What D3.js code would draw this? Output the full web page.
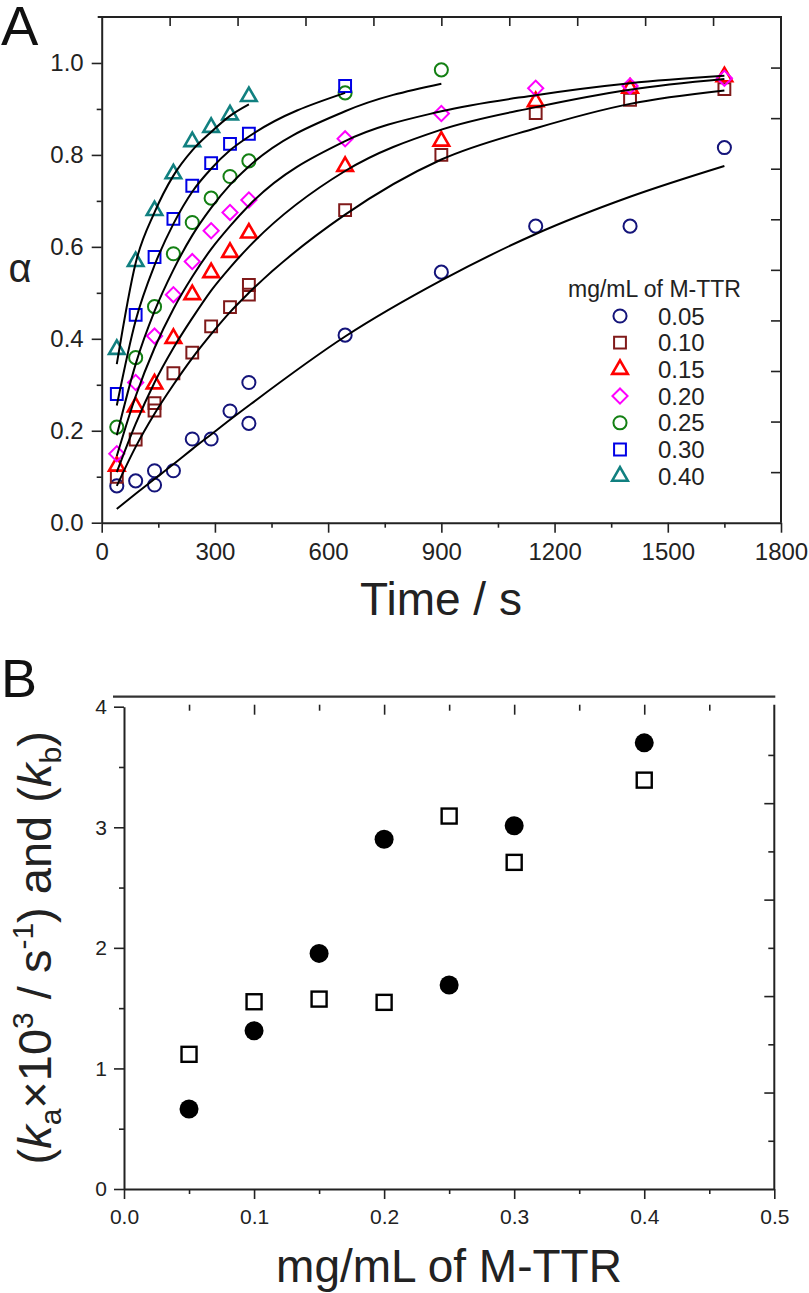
<!DOCTYPE html>
<html>
<head>
<meta charset="utf-8">
<script src="https://cdn.jsdelivr.net/npm/d3@7"></script>
<style>
  body { margin: 0; background: #fff; }
  svg { display: block; font-family: "Liberation Sans", Arial, Helvetica, sans-serif; }
  .ax path, .ax line { stroke: #222; }
  .ax text { fill: #222; }
</style>
</head>
<body>
<div id="chart"></div>
<script>
// ---- panel A: fraction converted vs time ----
const times = [40, 90, 140, 190, 240, 290, 340, 390, 645, 900, 1150, 1400, 1650]
const conc = ['0.05', '0.10', '0.15', '0.20', '0.25', '0.30', '0.40']

const a005 = [0.080, 0.091, 0.113, 0.113, 0.182, 0.182, 0.243, 0.305, 0.408, 0.545, 0.645, 0.645, 0.816]
const r005 = [null, null, 0.082, null, null, null, null, 0.216]
const a010 = [0.100, 0.181, 0.260, 0.325, 0.370, 0.427, 0.469, 0.517, 0.680, 0.800, 0.891, 0.920, 0.943]
const r010 = [null, null, 0.244, null, null, null, null, 0.496]
const a015 = [0.123, 0.252, 0.302, 0.401, 0.496, 0.544, 0.588, 0.630, 0.775, 0.830, 0.916, 0.945, 0.970]
const a020 = [0.150, 0.305, 0.406, 0.496, 0.568, 0.635, 0.675, 0.702, 0.835, 0.890, 0.945, 0.950, 0.967]
const a025 = [0.208, 0.359, 0.470, 0.585, 0.653, 0.706, 0.753, 0.787, 0.935, 0.985]
const a030 = [0.280, 0.452, 0.578, 0.661, 0.733, 0.782, 0.824, 0.846, 0.950]
const a040 = [0.377, 0.568, 0.679, 0.759, 0.829, 0.860, 0.887, 0.927]

// fitted curves at the same times
const f005 = [0.030, 0.063, 0.095, 0.127, 0.160, 0.192, 0.224, 0.255, 0.405, 0.527, 0.628, 0.709, 0.776]
const f010 = [0.080, 0.165, 0.237, 0.300, 0.358, 0.410, 0.458, 0.500, 0.670, 0.790, 0.858, 0.911, 0.940]
const f015 = [0.110, 0.215, 0.305, 0.380, 0.445, 0.505, 0.555, 0.600, 0.765, 0.855, 0.904, 0.942, 0.965]
const f020 = [0.145, 0.275, 0.380, 0.465, 0.535, 0.595, 0.645, 0.690, 0.830, 0.895, 0.930, 0.956, 0.972]
const f025 = [0.190, 0.345, 0.460, 0.550, 0.625, 0.685, 0.735, 0.775, 0.895, 0.955]
const f030 = [0.255, 0.440, 0.560, 0.650, 0.720, 0.770, 0.810, 0.840, 0.935]
const f040 = [0.345, 0.565, 0.675, 0.755, 0.810, 0.850, 0.885, 0.910]

// ---- panel B: rate constants vs concentration ----
const concB = [0.05, 0.10, 0.15, 0.20, 0.25, 0.30, 0.40]
const kaB = [0.663, 1.313, 1.954, 2.900, 1.692, 3.013, 3.700]
const kbB = [1.117, 1.553, 1.575, 1.548, 3.093, 2.709, 3.391]

const colors = ['#14147a', '#801a1a', '#ff0000', '#ff00ff', '#138013', '#0000e6', '#118080']
const shapes = ['circle', 'square', 'triangle', 'diamond', 'circle', 'square', 'triangle']
const values = [a005, a010, a015, a020, a025, a030, a040]
const reps = [r005, r010, [], [], [], [], []]
const fits = [f005, f010, f015, f020, f025, f030, f040]

const svg = d3.select('#chart').append('svg')
  .attr('width', 809)
  .attr('height', 1293)

function marker (shape) {
  if (shape === 'circle') return d3.symbol().type(d3.symbolCircle).size(135)()
  if (shape === 'square') return d3.symbol().type(d3.symbolSquare).size(140)()
  if (shape === 'triangle') return d3.symbol().type(d3.symbolTriangle).size(105)()
  return d3.symbol().type(d3.symbolSquare).size(115)()
}

// ================= A =================
const xA = d3.scaleLinear().domain([0, 1800]).range([101.7, 781])
const yA = d3.scaleLinear().domain([0, 1.1]).range([522.7, 17])
const gA = svg.append('g')

gA.append('g').attr('class', 'ax')
  .attr('transform', `translate(0,${yA(0)})`)
  .call(d3.axisBottom(xA).tickValues(d3.range(0, 1801, 300)).tickSize(10).tickPadding(10).tickSizeOuter(0).tickFormat(d3.format('d')))
  .call(g => g.selectAll('text').attr('font-size', 24))
gA.append('g').attr('class', 'ax')
  .attr('transform', `translate(0,${yA(0)})`)
  .call(d3.axisBottom(xA).tickValues(d3.range(150, 1800, 300)).tickSize(5).tickFormat(''))
  .call(g => g.select('.domain').remove())
gA.append('g').attr('class', 'ax')
  .attr('transform', `translate(${xA(0)},0)`)
  .call(d3.axisLeft(yA).tickValues(d3.range(0, 1.01, 0.2)).tickSize(10).tickPadding(8).tickSizeOuter(0).tickFormat(d3.format('.1f')))
  .call(g => g.selectAll('text').attr('font-size', 24))
gA.append('g').attr('class', 'ax')
  .attr('transform', `translate(${xA(0)},0)`)
  .call(d3.axisLeft(yA).tickValues(d3.range(0.1, 1.1, 0.2)).tickSize(5).tickFormat(''))
  .call(g => g.select('.domain').remove())
gA.append('g').attr('class', 'ax')
  .attr('transform', `translate(0,${yA(1.1)})`)
  .call(d3.axisBottom(xA).tickValues(d3.range(180, 1800, 180)).tickSize(9).tickFormat(''))
  .call(g => g.select('.domain').remove())
gA.append('g').attr('class', 'ax')
  .attr('transform', `translate(${xA(1800)},0)`)
  .call(d3.axisLeft(yA).tickValues(d3.range(1, 10).map(k => k * 0.11)).tickSize(10).tickFormat(''))
  .call(g => g.select('.domain').remove())
gA.selectAll('.ax path').attr('stroke-width', 2)
gA.selectAll('.ax line').attr('stroke-width', 1.6)

// frame top + right
gA.append('path')
  .attr('d', `M${xA(0) - 4},${yA(1.1)}H${xA(1800)}V${yA(0)}`)
  .attr('fill', 'none').attr('stroke', '#222').attr('stroke-width', 2)

// markers
values.forEach((vals, i) => {
  const pts = vals.map((v, j) => [times[j], v])
  reps[i].forEach((v, j) => { if (v != null) pts.push([times[j], v]) })
  gA.append('g').selectAll('path')
    .data(pts)
    .enter()
    .append('path')
    .attr('d', marker(shapes[i]))
    .attr('transform', d => `translate(${xA(d[0])},${yA(d[1])})` + (shapes[i] === 'diamond' ? 'rotate(45)' : ''))
    .attr('fill', 'none')
    .attr('stroke', colors[i])
    .attr('stroke-width', shapes[i] === 'triangle' ? 2.6 : 2)
})

// fitted curves
const line = d3.line().x(d => xA(d[0])).y(d => yA(d[1])).curve(d3.curveMonotoneX)
fits.forEach(f => {
  gA.append('path')
    .attr('d', line(f.map((v, j) => [times[j], v])))
    .attr('fill', 'none')
    .attr('stroke', '#000')
    .attr('stroke-width', 2)
})

// legend
const leg = gA.append('g')
leg.append('text').attr('x', 568).attr('y', 297).attr('font-size', 23).attr('fill', '#222').text('mg/mL of M-TTR')
conc.forEach((c, i) => {
  const yy = 316 + i * 26.7
  leg.append('path')
    .attr('d', marker(shapes[i]))
    .attr('transform', `translate(620,${yy})` + (shapes[i] === 'diamond' ? 'rotate(45)' : ''))
    .attr('fill', 'none')
    .attr('stroke', colors[i])
    .attr('stroke-width', shapes[i] === 'triangle' ? 2.6 : 2)
  leg.append('text').attr('x', 658).attr('y', yy + 8.6).attr('font-size', 24).attr('fill', '#222').text(c)
})

gA.append('text').attr('x', 441).attr('y', 615).attr('text-anchor', 'middle')
  .attr('font-size', 46).attr('fill', '#222').text('Time / s')
gA.append('text').attr('x', 20).attr('y', 282).attr('text-anchor', 'middle')
  .attr('font-size', 40).attr('fill', '#222').text('α')
svg.append('text').attr('x', 1).attr('y', 45).attr('font-size', 56).attr('fill', '#111').text('A')

// ================= B =================
const xB = d3.scaleLinear().domain([0, 0.5]).range([124, 774.3])
const yB = d3.scaleLinear().domain([0, 4]).range([1189, 706.7])
const gB = svg.append('g')

gB.append('g').attr('class', 'ax')
  .attr('transform', `translate(0,${yB(0)})`)
  .call(d3.axisBottom(xB).tickValues(d3.range(0, 0.51, 0.1)).tickSize(10).tickPadding(10).tickSizeOuter(0).tickFormat(d3.format('.1f')))
  .call(g => g.selectAll('text').attr('font-size', 21))
gB.append('g').attr('class', 'ax')
  .attr('transform', `translate(0,${yB(0)})`)
  .call(d3.axisBottom(xB).tickValues(d3.range(0.05, 0.5, 0.1)).tickSize(5).tickFormat(''))
  .call(g => g.select('.domain').remove())
gB.append('g').attr('class', 'ax')
  .attr('transform', `translate(${xB(0)},0)`)
  .call(d3.axisLeft(yB).tickValues(d3.range(0, 4.1, 1)).tickSize(10).tickPadding(7).tickSizeOuter(0).tickFormat(d3.format('d')))
  .call(g => g.selectAll('text').attr('font-size', 21))
gB.append('g').attr('class', 'ax')
  .attr('transform', `translate(${xB(0)},0)`)
  .call(d3.axisLeft(yB).tickValues(d3.range(0.5, 4, 1)).tickSize(5).tickFormat(''))
  .call(g => g.select('.domain').remove())
// top ticks hang under a detached top line
gB.append('g').attr('class', 'ax')
  .attr('transform', `translate(0,${yB(4) - 2})`)
  .call(d3.axisBottom(xB).tickValues(d3.range(0.1, 0.5, 0.1)).tickSize(10).tickFormat(''))
  .call(g => g.select('.domain').remove())
gB.append('g').attr('class', 'ax')
  .attr('transform', `translate(0,${yB(4) - 2})`)
  .call(d3.axisBottom(xB).tickValues(d3.range(0.05, 0.5, 0.1)).tickSize(6).tickFormat(''))
  .call(g => g.select('.domain').remove())
gB.append('g').attr('class', 'ax')
  .attr('transform', `translate(${xB(0.5)},0)`)
  .call(d3.axisLeft(yB).tickValues([0.8, 1.6, 2.4, 3.2]).tickSize(10).tickFormat(''))
  .call(g => g.select('.domain').remove())
gB.append('g').attr('class', 'ax')
  .attr('transform', `translate(${xB(0.5)},0)`)
  .call(d3.axisLeft(yB).tickValues([0.4, 1.2, 2.0, 2.8, 3.6]).tickSize(6).tickFormat(''))
  .call(g => g.select('.domain').remove())
gB.selectAll('.ax path').attr('stroke-width', 2)
gB.selectAll('.ax line').attr('stroke-width', 1.6)

gB.append('path')
  .attr('d', `M${xB(0) - 11},${yB(4) - 10}H${xB(0.5) + 1}`)
  .attr('stroke', '#333').attr('stroke-width', 2.2)
gB.append('path')
  .attr('d', `M${xB(0.5)},${yB(4) - 2}V${yB(0)}`)
  .attr('stroke', '#222').attr('stroke-width', 2)

gB.append('g').selectAll('circle')
  .data(concB.map((c, i) => [c, kaB[i]]))
  .enter()
  .append('circle')
  .attr('cx', d => xB(d[0]))
  .attr('cy', d => yB(d[1]))
  .attr('r', 9.5)
  .attr('fill', '#000')
gB.append('g').selectAll('rect')
  .data(concB.map((c, i) => [c, kbB[i]]))
  .enter()
  .append('rect')
  .attr('x', d => xB(d[0]) - 7.5)
  .attr('y', d => yB(d[1]) - 7.5)
  .attr('width', 15)
  .attr('height', 15)
  .attr('fill', 'none')
  .attr('stroke', '#000')
  .attr('stroke-width', 2.4)

gB.append('text').attr('x', 449).attr('y', 1282).attr('text-anchor', 'middle')
  .attr('font-size', 46).attr('fill', '#222').text('mg/mL of M-TTR')

const yt = gB.append('text')
  .attr('transform', `translate(51,${(yB(0) + yB(4)) / 2}) rotate(-90)`)
  .attr('text-anchor', 'middle').attr('font-size', 47).attr('fill', '#222')
yt.append('tspan').text('(')
yt.append('tspan').attr('font-style', 'italic').text('k')
yt.append('tspan').attr('font-size', 30).attr('dy', 10).text('a')
yt.append('tspan').attr('dy', -10).text('×10')
yt.append('tspan').attr('font-size', 30).attr('dy', -18).text('3')
yt.append('tspan').attr('dy', 18).text(' / s')
yt.append('tspan').attr('font-size', 30).attr('dy', -18).text('-1')
yt.append('tspan').attr('dy', 18).text(') and (')
yt.append('tspan').attr('font-style', 'italic').text('k')
yt.append('tspan').attr('font-size', 30).attr('dy', 10).text('b')
yt.append('tspan').attr('dy', -10).text(')')

svg.append('text').attr('x', 1).attr('y', 697).attr('font-size', 54).attr('fill', '#111').text('B')
</script>
</body>
</html>
